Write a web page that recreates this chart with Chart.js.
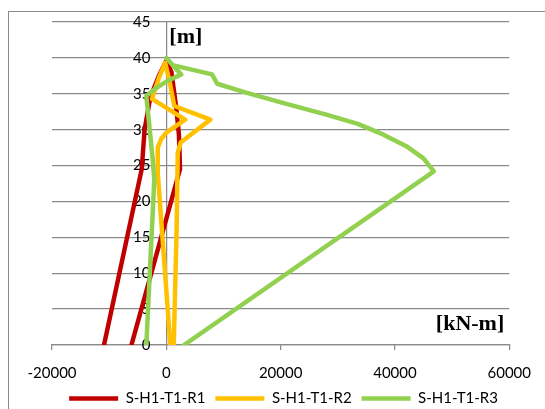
<!DOCTYPE html>
<html>
<head>
<meta charset="utf-8">
<script src="https://cdn.jsdelivr.net/npm/chart.js@4/dist/chart.umd.min.js"></script>
<style>
  html, body { margin: 0; padding: 0; background: #ffffff; }
  #wrap { width: 545px; height: 409px; position: relative; }
</style>
</head>
<body>
<div id="wrap"><canvas id="c" width="545" height="409"></canvas></div>
<script>
// Bending moment [kN-m] against height [m] for the three load cases
const seriesNames = ['S-H1-T1-R1', 'S-H1-T1-R2', 'S-H1-T1-R3'];

const momentR1 = [-10900, -4300, -3800, -2800, -1300, 0, 900, 1700, 2200, 2400, -6100];
const heightR1 = [0, 24.5, 30, 34.5, 37.5, 39.6, 38, 33.3, 29.4, 24.5, 0];

const momentR2 = [700, -1500, -1500, -900, 0, 3300, -2500, -1300, -200, 500, 1400, 7700, 2500, 2000, 1800, 1300];
const heightR2 = [0, 24, 27.5, 28.7, 29.6, 31.4, 34.3, 37.2, 39.3, 37, 33.3, 31.4, 28.2, 26.8, 16, 0];

const momentR3 = [-3500, -2100, -2400, -2900, -3500, -1800, 0, 2600, 0, 1100, 8000, 8900, 13800, 21000, 28000, 33500, 38000, 42000, 45000, 46800, 3100];
const heightR3 = [0, 23, 26, 30, 34.7, 35.8, 36.7, 37.7, 40, 39, 37.7, 36.4, 35.2, 33.6, 32.1, 30.8, 29.3, 27.7, 26, 24.2, 0];

const xTicks = [-20000, 0, 20000, 40000, 60000];
const yTicks = [0, 5, 10, 15, 20, 25, 30, 35, 40, 45];

const colors = ['#C00000', '#FFC000', '#92D050'];
const gridColor = '#8a8a8a';
const tickFont = { family: 'Lato', size: 15 };

function toPoints(xs, ys) {
  return xs.map((x, i) => ({ x: x, y: ys[i] }));
}

// later series are painted over earlier ones
const datasets = [
  [momentR1, heightR1],
  [momentR2, heightR2],
  [momentR3, heightR3]
].map((pair, i) => ({
  label: seriesNames[i],
  data: toPoints(pair[0], pair[1]),
  order: 2 - i,
  showLine: true,
  borderColor: colors[i],
  backgroundColor: colors[i],
  borderWidth: 4.5,
  borderJoinStyle: 'round',
  borderCapStyle: 'round',
  pointRadius: 0,
  pointHoverRadius: 0,
  tension: 0
}));

// Outer frame and the unit captions
const decorations = {
  id: 'decorations',
  beforeDraw(chart) {
    const ctx = chart.ctx;
    ctx.save();
    ctx.fillStyle = '#ffffff';
    ctx.fillRect(0, 0, chart.width, chart.height);
    ctx.strokeStyle = '#8a8a8a';
    ctx.lineWidth = 1;
    ctx.strokeRect(8.5, 11.5, chart.width + 20, chart.height + 20);
    ctx.restore();
  },
  afterDatasetsDraw(chart) {
    const ctx = chart.ctx;
    const area = chart.chartArea;
    const xs = chart.scales.x;
    ctx.save();
    ctx.fillStyle = '#000000';
    ctx.font = 'bold 22px "Liberation Serif", "Times New Roman", serif';
    ctx.textBaseline = 'alphabetic';
    ctx.textAlign = 'left';
    ctx.fillText('[m]', xs.getPixelForValue(0) + 3, area.top + 21);
    ctx.textAlign = 'right';
    ctx.fillText('[kN-m]', area.right - 5, area.bottom - 15);
    ctx.restore();
  }
};

new Chart(document.getElementById('c'), {
  type: 'scatter',
  data: { datasets: datasets },
  options: {
    responsive: false,
    animation: false,
    events: [],
    layout: { padding: { left: 52, right: 30, top: 22, bottom: -7 } },
    scales: {
      x: {
        type: 'linear',
        min: xTicks[0],
        max: xTicks[xTicks.length - 1],
        afterBuildTicks(scale) { scale.ticks = xTicks.map(v => ({ value: v })); },
        afterFit(scale) { scale.height = 36; },
        ticks: { font: tickFont, color: '#000000', padding: 14, maxRotation: 0, callback: (v) => String(v) },
        grid: {
          drawOnChartArea: true,
          color: (c) => (c.tick && c.tick.value === 0 ? gridColor : 'rgba(0,0,0,0)'),
          lineWidth: 1.25,
          drawTicks: true,
          tickLength: 5,
          tickColor: gridColor,
          tickWidth: 1.25
        },
        border: { display: true, color: gridColor, width: 1.25 }
      },
      y: {
        type: 'linear',
        position: 'left',
        min: yTicks[0],
        max: yTicks[yTicks.length - 1],
        afterBuildTicks(scale) { scale.ticks = yTicks.map(v => ({ value: v })); },
        afterFit(scale) {
          scale.width = 0;
          scale.paddingTop = 0;
          scale.paddingBottom = 0;
        },
        ticks: { font: tickFont, color: '#000000', mirror: true, crossAlign: 'far', padding: 81, callback: (v) => String(v) },
        grid: { color: gridColor, lineWidth: 1.25, drawTicks: false },
        border: { display: false }
      }
    },
    plugins: {
      legend: {
        position: 'bottom',
        labels: {
          font: tickFont,
          color: '#000000',
          usePointStyle: true,
          pointStyle: 'line',
          pointStyleWidth: 49,
          padding: 10,
          sort: (a, b) => a.datasetIndex - b.datasetIndex
        }
      },
      tooltip: { enabled: false }
    }
  },
  plugins: [decorations]
});
</script>
</body>
</html>
